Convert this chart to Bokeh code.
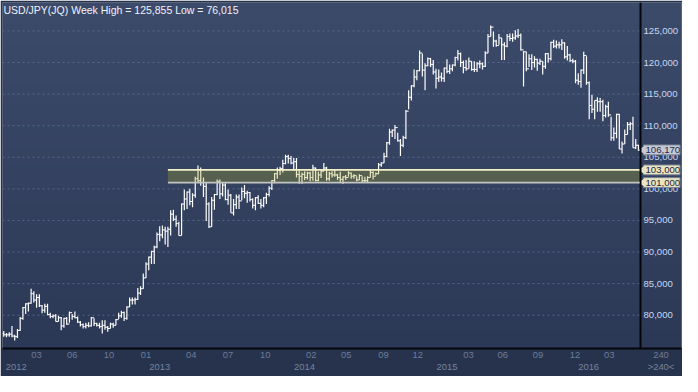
import numpy as np
from bokeh.plotting import figure
from bokeh.models import Range1d, LinearAxis, FixedTicker, Label, ColumnDataSource, Grid, Span
from bokeh.core.properties import value
from bokeh.embed import file_html
from bokeh.resources import INLINE

# ---------------- data (weekly USD/JPY bars) ----------------
high = [77.5, 77.2, 77.3, 78.3, 76.9, 77.8, 79.7, 81.3, 81.9, 82.0,
        84.2, 83.8, 83.3, 83.3, 81.6, 81.8, 81.8, 80.4, 80.1, 80.2,
        79.9, 79.7, 79.6, 79.7, 80.6, 80.2, 80.6, 79.8, 79.1, 78.7,
        78.8, 78.9, 79.7, 79.5, 78.8, 78.8, 79.2, 79.2, 78.3, 78.8,
        78.8, 79.4, 80.4, 80.7, 80.6, 81.4, 82.8, 82.8, 82.8, 84.3,
        84.6, 86.6,
        88.4, 89.3, 90.2, 91.0, 93.1, 94.1, 94.2, 94.0, 94.0, 96.6,
        96.7, 95.8, 94.8, 97.7, 99.9, 99.6, 100.0, 99.3, 101.9, 103.7,
        103.4, 101.8, 101.0, 97.9, 98.7, 99.2, 101.5, 101.5, 101.0, 100.9,
        99.9, 99.2, 98.4, 99.1, 99.1, 100.2, 100.6, 99.7, 99.5, 98.5,
        98.7, 99.0, 98.4, 98.7, 99.4, 100.4, 101.4, 102.5, 103.4, 103.5,
        104.6, 105.4,
        105.4, 105.2, 104.9, 104.9, 103.0, 102.6, 102.8, 102.7, 102.7, 103.8,
        103.4, 102.7, 103.0, 104.1, 103.5, 102.7, 102.8, 103.0, 102.4, 102.7,
        102.0, 102.2, 102.8, 102.6, 102.3, 102.0, 102.3, 102.0, 101.9, 102.0,
        103.1, 102.8, 102.6, 104.1, 104.2, 105.7, 107.4, 109.5, 109.4, 110.1,
        108.9, 107.9, 108.4, 112.5, 115.6, 116.4, 118.9, 118.8, 121.9, 121.4,
        119.9, 120.8,
        120.7, 120.4, 119.0, 118.9, 118.4, 119.2, 120.5, 119.7, 119.7, 120.9,
        122.0, 121.6, 120.3, 120.4, 120.8, 120.2, 120.2, 120.1, 120.3, 120.0,
        121.8, 124.5, 125.855, 124.9, 123.6, 124.5, 123.9, 123.2, 124.5, 124.6,
        124.6, 125.1, 125.3, 124.6, 121.8, 121.7, 121.3, 121.3, 121.0, 120.6,
        120.6, 120.2, 121.5, 121.5, 123.3, 123.6, 123.5, 123.3, 123.7, 123.2,
        122.6, 121.4,
        120.6, 120.4, 118.3, 118.9, 121.7, 121.0, 117.0, 114.9, 114.0, 114.5,
        114.4, 114.1, 113.3, 113.8, 111.4, 109.7, 111.9, 111.9, 107.5, 109.4,
        110.6, 110.6, 111.4, 107.9, 107.0]

low = [76.6, 76.5, 76.6, 76.5, 76.015, 76.4, 77.5, 79.3, 80.2, 80.6,
       81.8, 82.0, 81.2, 81.3, 80.3, 80.4, 80.0, 79.5, 79.5, 79.0,
       79.0, 77.6, 78.0, 78.5, 78.8, 79.3, 79.5, 78.8, 78.2, 77.9,
       77.9, 78.1, 78.2, 78.3, 78.2, 77.9, 77.1, 77.7, 77.4, 77.9,
       78.0, 78.4, 79.4, 79.6, 79.1, 79.3, 81.3, 81.7, 81.7, 82.4,
       83.2, 84.2,
       85.9, 87.1, 88.1, 88.1, 90.6, 91.7, 92.2, 91.2, 90.8, 92.6,
       94.9, 94.0, 92.6, 92.6, 96.6, 96.8, 97.4, 97.1, 98.6, 101.1,
       100.5, 98.7, 94.9, 93.8, 94.0, 96.7, 99.0, 98.4, 98.8, 98.2,
       97.5, 96.2, 95.8, 96.8, 96.8, 98.2, 98.5, 97.8, 98.0, 96.9,
       96.6, 97.6, 96.9, 97.1, 97.6, 98.8, 99.8, 100.9, 101.6, 102.2,
       102.6, 103.9,
       104.0, 103.9, 102.9, 101.8, 100.8, 100.8, 101.4, 101.5, 101.2, 101.3,
       101.2, 101.2, 101.7, 102.8, 101.3, 101.3, 101.8, 101.9, 101.4, 101.1,
       100.8, 101.4, 101.9, 101.6, 101.6, 101.2, 101.4, 101.1, 101.1, 101.1,
       101.8, 101.5, 102.1, 102.3, 103.5, 104.1, 105.0, 107.0, 108.2, 107.9,
       107.5, 105.2, 106.6, 107.9, 112.6, 114.0, 116.1, 117.2, 118.6, 117.8,
       115.6, 119.4,
       119.3, 118.1, 115.9, 116.9, 117.0, 116.9, 118.3, 118.2, 118.6, 119.4,
       120.3, 119.3, 118.3, 118.7, 119.0, 118.7, 118.5, 118.5, 119.1, 118.9,
       119.3, 121.5, 124.1, 122.5, 122.5, 122.8, 120.4, 120.4, 122.4, 123.4,
       123.3, 123.6, 123.9, 121.9, 116.2, 118.6, 119.3, 118.8, 119.2, 118.7,
       119.6, 118.1, 119.0, 120.0, 120.3, 122.3, 122.2, 122.2, 122.0, 120.6,
       120.3, 120.1,
       119.9, 116.7, 116.5, 116.0, 118.2, 116.5, 111.0, 112.0, 111.0, 112.2,
       112.2, 110.7, 111.3, 111.4, 107.6, 107.6, 108.0, 106.3, 105.6, 107.1,
       108.6, 109.3, 106.5, 106.3, 106.0]

close = [76.9, 76.9, 77.0, 76.7, 76.6, 77.6, 79.5, 81.2, 81.8, 81.9,
         83.4, 82.4, 82.8, 81.5, 80.8, 81.4, 80.1, 79.8, 79.9, 79.0,
         79.6, 78.3, 79.5, 78.6, 80.4, 79.8, 79.6, 78.9, 78.5, 78.2,
         78.4, 78.3, 79.6, 78.7, 78.4, 78.2, 78.4, 78.1, 77.9, 78.6,
         78.4, 79.3, 79.9, 80.4, 79.5, 81.3, 82.4, 82.4, 82.5, 83.5,
         84.2, 85.9,
         88.1, 89.2, 90.1, 90.8, 92.8, 92.7, 93.5, 93.3, 93.6, 96.0,
         95.2, 94.5, 92.6, 97.6, 98.4, 99.5, 98.0, 99.0, 101.6, 101.3,
         101.0, 100.4, 97.6, 94.0, 98.2, 99.1, 101.2, 99.2, 100.6, 98.3,
         99.0, 96.2, 97.5, 98.7, 98.1, 99.6, 99.3, 99.4, 98.3, 97.4,
         98.6, 97.7, 97.4, 98.6, 99.1, 100.1, 101.3, 102.4, 102.9, 103.2,
         104.0, 105.1,
         104.8, 104.1, 104.3, 102.3, 102.0, 102.3, 101.8, 102.5, 101.8, 103.3,
         101.3, 102.2, 102.8, 103.3, 101.6, 102.4, 102.2, 102.2, 101.8, 101.5,
         101.9, 101.8, 102.5, 102.0, 102.1, 101.4, 102.1, 101.3, 101.3, 101.8,
         102.6, 102.0, 102.4, 103.8, 104.1, 105.1, 107.3, 109.0, 109.3, 109.7,
         107.6, 106.9, 108.1, 112.3, 114.5, 116.3, 117.7, 118.7, 121.5, 118.8,
         119.5, 120.6,
         119.7, 118.5, 117.5, 117.7, 117.5, 119.1, 118.6, 119.0, 119.6, 120.8,
         121.4, 120.0, 119.2, 119.0, 120.2, 118.9, 118.9, 119.8, 119.8, 119.4,
         121.5, 124.1, 125.6, 123.4, 122.7, 123.9, 122.8, 122.6, 124.1, 123.8,
         123.9, 124.2, 124.3, 122.0, 121.7, 119.0, 120.6, 120.0, 120.5, 119.9,
         120.2, 119.4, 121.4, 120.6, 123.2, 122.6, 122.8, 122.8, 123.1, 120.9,
         121.2, 120.3,
         120.2, 117.2, 117.0, 118.8, 121.1, 116.8, 113.2, 112.6, 114.0, 113.8,
         113.8, 111.6, 113.0, 111.7, 108.1, 108.8, 111.8, 106.3, 107.1, 108.6,
         110.2, 110.3, 106.5, 106.9, 106.17]

first_open = 77.1

price_ticks = [80, 85, 90, 95, 100, 105, 110, 115, 120, 125]
price_labels = ["80,000", "85,000", "90,000", "95,000", "100,000",
                "105,000", "110,000", "115,000", "120,000", "125,000"]

# bar positions (week index) of the month marks and their labels
month_pos = [12, 25, 38.5, 52, 68.5, 82, 95.6, 112.4, 125.2, 138.8,
             151.3, 169.9, 182.4, 195.3, 208.8, 221.3]
month_labels = ["03", "06", "10", "01", "04", "07", "10", "02", "05", "09",
                "12", "03", "06", "09", "12", "03"]
year_start = [-0.46, 52, 104.9, 157, 208.8]
year_labels = ["2012", "2013", "2014", "2015", "2016"]

zone_start = 60
zone_low, zone_high = 101.0, 103.0
last_price = 106.17
bars_shown = 240
title_text = "USD/JPY(JQ) Week High = 125,855 Low = 76,015"

# ---------------- layout ----------------
W, H = 682, 376
BL, BT, BR, BB = 2, 2, 1, 28
FW, FH = W - BL - BR, H - BT - BB
PRICE_W = 638                 # width in px of the price area (left of the price scale)
FONT = "Liberation Sans"

X0, X_AXIS = -0.46, 232.75    # data x at the left edge / at the price scale line
Y0, Y1 = 74.73, 129.5
ppb = PRICE_W / (X_AXIS - X0)  # px per bar
X1 = X0 + FW / ppb
ppy = FH / (Y1 - Y0)           # px per yen

n = len(close)
x = np.arange(n)
opens = [first_open] + close[:-1]

p = figure(width=W, height=H, output_backend="svg", toolbar_location=None,
           x_range=Range1d(X0, X1), y_range=Range1d(Y0, Y1),
           x_axis_location=None, y_axis_location=None,
           min_border_left=BL, min_border_top=BT, min_border_right=BR, min_border_bottom=BB,
           background_fill_color="#34425f", border_fill_color="#27334d",
           outline_line_color=None)
p.center = [r for r in p.center if not isinstance(r, Grid)]

# vertical background gradient
rows = 96
top_c = np.array([61, 75, 107])
bot_c = np.array([44, 57, 86])
img = np.empty((rows, 1), dtype=np.uint32)
view = img.view(dtype=np.uint8).reshape((rows, 1, 4))
for r in range(rows):
    t = r / (rows - 1)
    c = bot_c + (top_c - bot_c) * t
    view[r, 0, 0:3] = c.astype(np.uint8)
    view[r, 0, 3] = 255
p.image_rgba(image=[img], x=X0, y=Y0, dw=X1 - X0, dh=Y1 - Y0)

# month axis (plus the bar counter in the corner)
corner_x = X_AXIS + (FW - PRICE_W) / 2 / ppb
m_ticks = month_pos + [corner_x]
m_over = {t: l for t, l in zip(month_pos, month_labels)}
m_over[corner_x] = str(bars_shown)
xax = LinearAxis(ticker=FixedTicker(ticks=m_ticks), major_label_overrides=m_over,
                 axis_line_color="#04060c", axis_line_width=2,
                 major_tick_line_color=None, minor_tick_line_color=None,
                 major_tick_out=0, major_tick_in=0, minor_tick_out=0, minor_tick_in=0,
                 major_label_text_color="#6c7b99", major_label_text_font=FONT,
                 major_label_text_font_size="9.4px", major_label_standoff=3)
p.add_layout(xax, "below")

# year axis
year_tick = [s + 5.0 for s in year_start] + [corner_x]
y_over = {t: l for t, l in zip(year_tick, year_labels)}
y_over[corner_x] = f">{bars_shown}<"
yrax = LinearAxis(ticker=FixedTicker(ticks=year_tick), major_label_overrides=y_over,
                  axis_line_color=None,
                  major_tick_line_color=None, minor_tick_line_color=None,
                  major_tick_out=0, major_tick_in=0, minor_tick_out=0, minor_tick_in=0,
                  major_label_text_color="#74839f", major_label_text_font=FONT,
                  major_label_text_font_size="9.4px", major_label_standoff=0)
p.add_layout(yrax, "below")

# grids (price area only)
p.add_layout(Grid(dimension=0, ticker=FixedTicker(ticks=month_pos),
                  grid_line_color="#56658a", grid_line_dash="2 3", grid_line_width=1))
p.segment(x0=X0, x1=X_AXIS, y0=price_ticks, y1=price_ticks,
          line_color="#56658a", line_dash="2 3", line_width=1)

# OHLC bars
src = ColumnDataSource(dict(x=x, h=high, l=low, o=opens, c=close,
                            xl=x - 0.55, xr=x + 0.55))
p.segment(x0="x", y0="l", x1="x", y1="h", source=src, line_color="#ffffff", line_width=1.2)
p.segment(x0="xl", y0="o", x1="x", y1="o", source=src, line_color="#ffffff", line_width=1)
p.segment(x0="x", y0="c", x1="xr", y1="c", source=src, line_color="#ffffff", line_width=1)

# highlighted zone
p.quad(left=[zone_start], right=[X_AXIS], bottom=[zone_low], top=[zone_high],
       fill_color="#b4b428", fill_alpha=0.28, line_color=None)
p.segment(x0=[zone_start], x1=[X_AXIS], y0=[zone_high], y1=[zone_high],
          line_color="#f3efc9", line_width=1.8)
p.segment(x0=[zone_start], x1=[X_AXIS], y0=[zone_low], y1=[zone_low],
          line_color="#c2c6c2", line_width=1.8)

# price scale: line + labels
p.add_layout(Span(location=X_AXIS, dimension="height", line_color="#04060c", line_width=2))
p.text(x=[X_AXIS] * len(price_ticks), y=price_ticks, text=price_labels,
       x_offset=3, text_font=value(FONT), text_font_size=value("9.6px"),
       text_color="#c6d8f2", text_align="left", text_baseline="middle")

# price tags
tag_vals = [last_price, zone_high, zone_low]
tag_text = [f"{v:.3f}".replace(".", ",") for v in tag_vals]
tag_bg = ["#c7cbd1", "#e9e5c3", "#e9e5c3"]
tag_fg = ["#1b2a58", "#1e2640", "#1e2640"]
half = 4.9 / ppy
p.quad(left=X_AXIS + 3 / ppb, right=X1 - 1.5 / ppb,
       bottom=[v - half for v in tag_vals], top=[v + half for v in tag_vals],
       fill_color=tag_bg, line_color="#7c8598", line_width=1)
p.scatter(x=[X_AXIS + 1.8 / ppb] * 3, y=tag_vals, marker="triangle", size=8,
          angle=np.pi / 2, fill_color=tag_bg, line_color=None)
p.text(x=[X_AXIS] * 3, y=tag_vals, text=tag_text, x_offset=5,
       text_font=value(FONT), text_font_size=value("9.6px"),
       text_color=tag_fg, text_align="left", text_baseline="middle")

# title
p.add_layout(Label(x=1, y=FH - 1, x_units="screen", y_units="screen", text=title_text,
                   text_font=FONT, text_font_size="10.5px", text_color="#eef2fa",
                   text_baseline="top"))

html = file_html(p, INLINE, title="USD/JPY weekly")
open("out.html", "w").write(html)
